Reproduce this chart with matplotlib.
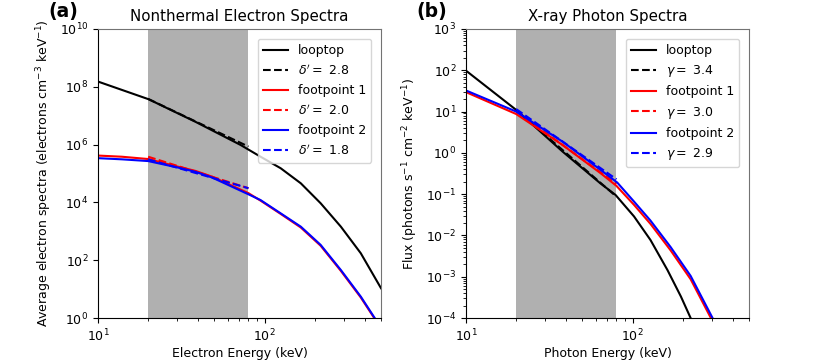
import numpy as np
import matplotlib.pyplot as plt
from matplotlib.ticker import NullLocator

# --- panel (a): nonthermal electron spectra (log10 of y)
e_loop = [10, 20.1, 38.4, 71.6, 94.6, 125, 165, 217, 287, 378, 500]
f_loop = [8.18, 7.57, 6.79, 5.99, 5.58, 5.18, 4.66, 3.97, 3.16, 2.24, 1.03]
e_fp1 = [10, 13.9, 20, 30.5, 38.4, 48.4, 80, 94.6, 125, 165, 217, 287, 378, 455]
f_fp1 = [5.62, 5.58, 5.50, 5.23, 5.09, 4.89, 4.32, 4.06, 3.60, 3.13, 2.50, 1.63, 0.71, 0.0]
e_fp2 = [10, 13.9, 20, 30.5, 38.4, 48.4, 80, 94.6, 125, 165, 217, 287, 378, 458]
f_fp2 = [5.53, 5.49, 5.43, 5.20, 5.06, 4.86, 4.28, 4.08, 3.62, 3.16, 2.53, 1.66, 0.74, 0.0]

fit_e = [20, 80]
fit_loop_a = [7.58, 5.93]
fit_fp1_a = [5.58, 4.49]
fit_fp2_a = [5.49, 4.49]
delta = ["2.8", "2.0", "1.8"]

# --- panel (b): x-ray photon spectra
p_loop = [10, 20, 38, 64.1, 79, 102, 128, 162, 195, 223]
g_loop = [1.99, 1.04, 0.03, -0.74, -1.02, -1.54, -2.11, -2.84, -3.48, -4.0]
p_fp1 = [10, 20, 38, 64.1, 80, 102, 128, 169, 223, 295]
g_fp1 = [1.47, 0.94, 0.19, -0.49, -0.80, -1.26, -1.72, -2.36, -3.06, -4.0]
p_fp2 = [10, 20, 38, 64.1, 80.9, 102, 128, 169, 223, 302]
g_fp2 = [1.51, 1.0, 0.27, -0.41, -0.72, -1.18, -1.64, -2.28, -2.98, -4.0]

fit_loop_b = [1.04, -1.06]
fit_fp1_b = [1.0, -0.75]
fit_fp2_b = [1.06, -0.64]
gamma = ["3.4", "3.0", "2.9"]

band = (20, 80)


def style_axes(ax):
    ax.set_xscale('log')
    ax.set_yscale('log')
    ax.set_xlim(10, 500)
    for s in ['top', 'right']:
        ax.spines[s].set_color('0.45')
    ax.tick_params(labelsize=9)


def draw(ax, xs, ys, fits, names, sym):
    colors = ['k', 'r', 'b']
    labels = ['looptop', 'footpoint 1', 'footpoint 2']
    for x, y, fit, c, lab, n in zip(xs, ys, fits, colors, labels, names):
        ax.plot(x, 10**np.array(y), color=c, ls='-', lw=1.5, label=lab)
        ax.plot(fit_e, 10**np.array(fit), color=c, ls='--', lw=1.5,
                label=r"$%s=$ %s" % (sym, n))


fig = plt.figure(figsize=(8.14, 3.62), dpi=100)
ax1 = fig.add_axes([0.1204, 0.1215, 0.3477, 0.7985])
ax2 = fig.add_axes([0.5725, 0.1215, 0.3477, 0.7985])

# left
style_axes(ax1)
ax1.axvspan(*band, color='0.69', lw=0)
draw(ax1, [e_loop, e_fp1, e_fp2], [f_loop, f_fp1, f_fp2],
     [fit_loop_a, fit_fp1_a, fit_fp2_a], delta, r"\delta'")
ax1.set_ylim(1, 1e10)
ax1.set_yticks([1e0, 1e2, 1e4, 1e6, 1e8, 1e10])
ax1.yaxis.set_minor_locator(NullLocator())
ax1.set_title('Nonthermal Electron Spectra', fontsize=10.8)
ax1.set_xlabel('Electron Energy (keV)', fontsize=9, labelpad=2)
ax1.set_ylabel(r'Average electron spectra (electrons cm$^{-3}$ keV$^{-1}$)', fontsize=9)
ax1.legend(loc='upper right', fontsize=9, borderaxespad=0.8)

# right
style_axes(ax2)
ax2.axvspan(*band, color='0.69', lw=0)
draw(ax2, [p_loop, p_fp1, p_fp2], [g_loop, g_fp1, g_fp2],
     [fit_loop_b, fit_fp1_b, fit_fp2_b], gamma, r"\gamma")
ax2.set_ylim(1e-4, 1e3)
ax2.set_yticks([10.0**k for k in range(-4, 4)])
ax2.set_title('X-ray Photon Spectra', fontsize=10.8)
ax2.set_xlabel('Photon Energy (keV)', fontsize=9, labelpad=2)
ax2.set_ylabel(r'Flux (photons s$^{-1}$ cm$^{-2}$ keV$^{-1}$)', fontsize=9)
ax2.legend(loc='upper right', fontsize=9, borderaxespad=0.8)

fig.text(0.059, 0.967, '(a)', fontsize=13.5, fontweight='bold', va='center')
fig.text(0.511, 0.967, '(b)', fontsize=13.5, fontweight='bold', va='center')

fig.savefig('out.png', dpi=100)
